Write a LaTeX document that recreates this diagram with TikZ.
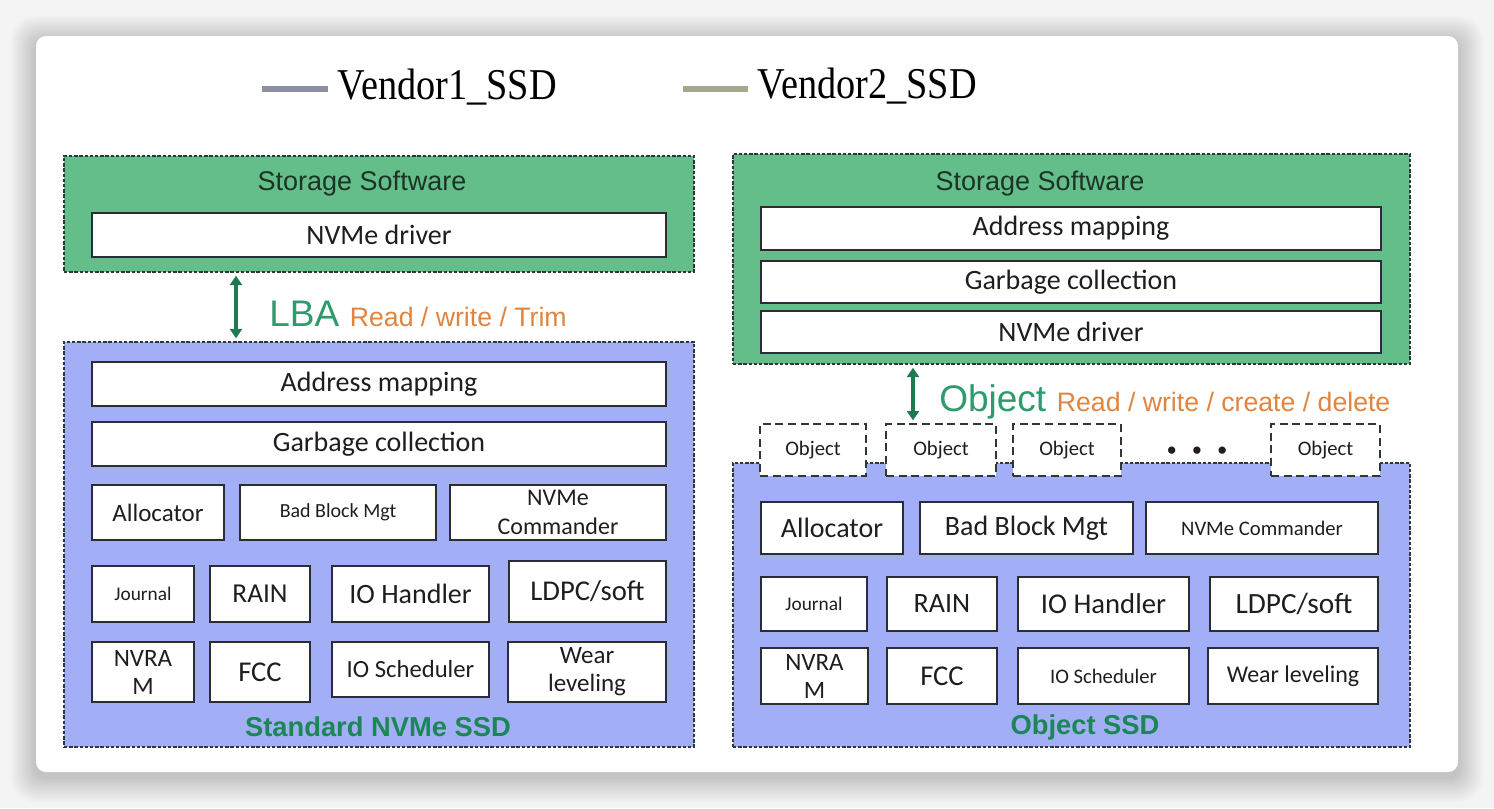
\documentclass[tikz,border=0pt]{standalone}
\usepackage{fontspec}
\setmainfont{Liberation Sans}
\newfontfamily\calfont{Carlito}
\newfontfamily\arialf{Liberation Sans}
\newfontfamily\legf[FakeStretch=0.87]{Liberation Serif}
\usetikzlibrary{arrows.meta}
\definecolor{gfill}{HTML}{63BE8A}
\definecolor{bfill}{HTML}{A2AFF6}
\definecolor{dashc}{HTML}{2E3838}
\definecolor{boxc}{HTML}{2A2C38}
\definecolor{lbag}{HTML}{2E9B6C}
\definecolor{arrg}{HTML}{1F7A52}
\definecolor{orng}{HTML}{E0843F}
\definecolor{ttlg}{HTML}{1C8656}
\definecolor{vone}{HTML}{8A8FA2}
\definecolor{vtwo}{HTML}{A3A88C}
\definecolor{bgc}{HTML}{F4F4F4}
\definecolor{txtc}{HTML}{1E1E1E}
\definecolor{sstc}{HTML}{1C3326}
\newcommand\cf[2]{\calfont\fontsize{#1}{#2}\selectfont}
\newcommand\af[2]{\arialf\fontsize{#1}{#2}\selectfont}
\newcommand\bx[7][]{%
  \node[#1, minimum width={(#5-#3)*0.75pt}, minimum height={(#6-#4)*0.75pt}] (#2) at ({(#3+#5)/2},{(#4+#6)/2}) {#7};}
\tikzset{
  panel/.style={draw=dashc, line width=1.6pt, dash pattern=on 2.6pt off 1.3pt, inner sep=0pt},
  gbox/.style={panel, fill=gfill},
  bbox/.style={panel, fill=bfill},
  wbox/.style={draw=boxc, line width=1.9pt, fill=white, inner sep=0pt, align=center, text=txtc},
  objbox/.style={draw=dashc, line width=1.5pt, dash pattern=on 6pt off 3.5pt, fill=white, inner sep=0pt, text=txtc},
  dbl/.style={{Triangle[width=9pt,length=7pt]}-{Triangle[width=9pt,length=7pt]}, draw=arrg, line width=2.4pt, shorten <=2pt, shorten >=2pt},
  sstitle/.style={text=sstc, font=\af{20.25}{24}},
  ssdtitle/.style={text=ttlg, font=\arialf\bfseries\fontsize{20.5}{24}\selectfont},
  legline/.style={line width=4pt},
  legtext/.style={anchor=west, text=black, font=\legf\fontsize{33}{36}\selectfont}
}
\begin{document}
\begin{tikzpicture}[x=0.75pt,y=-0.75pt]
\useasboundingbox (0,0) rectangle (1494,808);
\fill[bgc] (0,0) rectangle (1494,808);
% soft shadow of the card
\foreach \i in {1,...,16}{
  \fill[black, opacity=0.011, rounded corners={(7.5+0.75*\i)*1pt}] ({36-1.6*\i},{36-1.6*\i+5}) rectangle ({1458+1.6*\i},{772+1.6*\i+5});
}
\fill[white, rounded corners=7.5pt] (36,36) rectangle (1458,772);

% legend
\coordinate (l1a) at (262,89); \coordinate (l1b) at (328,89);
\draw[legline, vone] (l1a) -- (l1b);
\node[legtext] (v1t) at (333,87) {Vendor1\_SSD};
\coordinate (l2a) at (683,89); \coordinate (l2b) at (748,89);
\draw[legline, vtwo] (l2a) -- (l2b);
\node[legtext] (v2t) at (753,86) {Vendor2\_SSD};

% ===== left panel =====
\bx[gbox]{ssL}{64}{156}{694}{272}{}
\node[sstitle] (ssLt) at (362,184) {Storage Software};
\bx[wbox, font=\cf{21}{25}]{nvL}{92}{213}{666}{257}{NVMe driver}

\bx[bbox]{ssdL}{64}{342}{694}{747}{}
\bx[wbox, font=\cf{21}{25}]{amL}{92}{362}{666}{406}{Address mapping}
\bx[wbox, font=\cf{21}{25}]{gcL}{92}{422}{666}{466}{Garbage collection}
\bx[wbox, font=\cf{18.75}{22}]{alL}{92}{485}{224}{540}{Allocator}
\bx[wbox, font=\cf{15}{18}]{bbL}{240}{485}{436}{540}{Bad Block Mgt}
\bx[wbox, font=\cf{18}{21.5}]{ncL}{450}{485}{666}{540}{NVMe\\Commander}
\bx[wbox, font=\cf{14.5}{18}]{jL}{92}{566}{194}{622}{Journal}
\bx[wbox, font=\cf{20.5}{24}]{rL}{210}{566}{310}{622}{RAIN}
\bx[wbox, font=\cf{21}{25}]{ihL}{332}{566}{489}{622}{IO Handler}
\bx[wbox, font=\cf{21.5}{25}]{ldL}{509}{561}{666}{622}{LDPC/soft}
\bx[wbox, font=\cf{18.75}{21}]{nrL}{92}{642}{194}{702}{NVRA\\M}
\bx[wbox, font=\cf{21.5}{25}]{fcL}{210}{642}{310}{702}{FCC}
\bx[wbox, font=\cf{18.5}{22}]{isL}{332}{642}{489}{697}{IO Scheduler}
\bx[wbox, font=\cf{18.75}{21}]{wlL}{508}{642}{666}{702}{Wear\\leveling}
\node[ssdtitle] (ssdLt) at (378,727) {Standard NVMe SSD};

\coordinate (axL) at (236,300);
\draw[dbl] (ssL.south -| axL) -- (ssdL.north -| axL);
\node[anchor=base west, inner sep=0pt] (lba) at (269,326) {{\color{lbag}\af{27.75}{30}LBA}\hspace{8pt}{\color{orng}\af{20}{24}Read / write / Trim}};

% ===== right panel =====
\bx[gbox]{ssR}{733}{154}{1410}{364}{}
\node[sstitle] (ssRt) at (1040,184) {Storage Software};
\bx[wbox, font=\cf{21}{25}]{amR}{761}{207}{1381}{250}{Address mapping}
\bx[wbox, font=\cf{21}{25}]{gcR}{761}{261}{1381}{303}{Garbage collection}
\bx[wbox, font=\cf{21}{25}]{nvR}{761}{311}{1381}{353}{NVMe driver}

\bx[bbox]{ssdR}{733}{463}{1410}{747}{}
\bx[objbox, font=\cf{15.5}{18}]{o1}{760}{424}{866}{476}{Object}
\bx[objbox, font=\cf{15.5}{18}]{o2}{886}{424}{996}{476}{Object}
\bx[objbox, font=\cf{15.5}{18}]{o3}{1013}{424}{1121}{476}{Object}
\bx[objbox, font=\cf{15.5}{18}]{o5}{1271}{424}{1380}{476}{Object}
\node[font=\af{20}{24}, text=txtc, inner sep=0pt] (dots) at (1197,453) {\textbullet\hspace{12pt}\textbullet\hspace{12pt}\textbullet};

\bx[wbox, font=\cf{21}{25}]{alR}{761}{502}{903}{554}{Allocator}
\bx[wbox, font=\cf{21}{25}]{bbR}{920}{502}{1133}{554}{Bad Block Mgt}
\bx[wbox, font=\cf{15.5}{18}]{ncR}{1146}{502}{1378}{554}{NVMe Commander}
\bx[wbox, font=\cf{14.5}{18}]{jR}{761}{577}{867}{631}{Journal}
\bx[wbox, font=\cf{21}{25}]{rR}{887}{577}{997}{631}{RAIN}
\bx[wbox, font=\cf{21.5}{25}]{ihR}{1018}{577}{1189}{631}{IO Handler}
\bx[wbox, font=\cf{22}{25}]{ldR}{1210}{577}{1378}{631}{LDPC/soft}
\bx[wbox, font=\cf{18.75}{21}]{nrR}{761}{648}{868}{704}{NVRA\\M}
\bx[wbox, font=\cf{21.5}{25}]{fcR}{887}{648}{997}{704}{FCC}
\bx[wbox, font=\cf{15.5}{18}]{isR}{1018}{648}{1189}{704}{IO Scheduler}
\bx[wbox, font=\cf{18}{21}]{wlR}{1208}{648}{1378}{704}{Wear leveling}
\node[ssdtitle] (ssdRt) at (1085,727) {Object SSD};

\coordinate (axR) at (913,400);
\draw[dbl] (ssR.south -| axR) -- (o2.north -| axR);
\node[anchor=base west, inner sep=0pt] (objl) at (939,411) {{\color{lbag}\af{27.75}{30}Object}\hspace{8pt}{\color{orng}\af{20}{24}Read / write / create / delete}};
\end{tikzpicture}
\end{document}
